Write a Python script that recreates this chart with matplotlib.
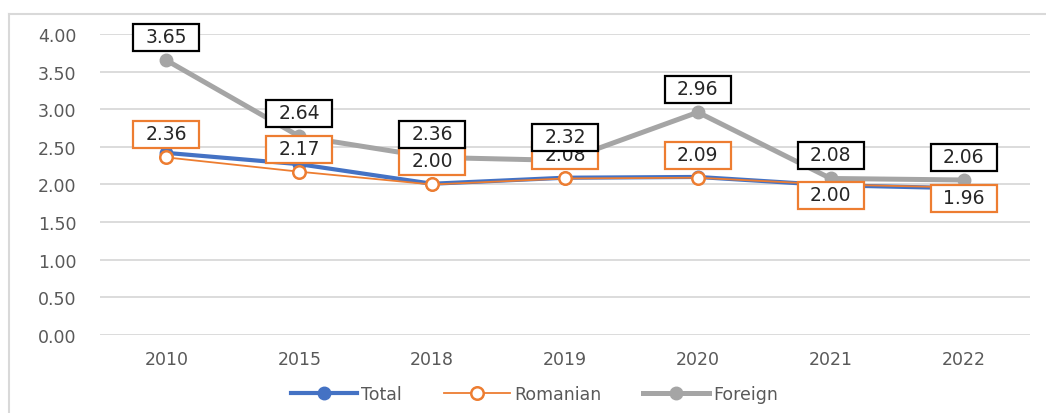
import matplotlib.pyplot as plt
from matplotlib.lines import Line2D
from matplotlib.path import Path

years = ['2010', '2015', '2018', '2019', '2020', '2021', '2022']
total = [2.42, 2.27, 2.01, 2.09, 2.10, 1.99, 1.95]
romanian = [2.36, 2.17, 2.00, 2.08, 2.09, 2.00, 1.96]
foreign = [3.65, 2.64, 2.36, 2.32, 2.96, 2.08, 2.06]
# label offsets in points (positive = above the point)
romanian_off = [17, 17, 17, 17, 17, -7, -7]
foreign_off = [17, 17, 17, 17, 17, 17, 17]


def label_box(x0, y0, width, height, mutation_size):
    # fixed size box (pixels) centred on the text
    cx = x0 + width / 2
    cy = y0 + height / 2 - 1
    w, h = 33, 13.5
    return Path([(cx - w, cy - h), (cx + w, cy - h), (cx + w, cy + h),
                 (cx - w, cy + h), (cx - w, cy - h)], closed=True)


fig = plt.figure(figsize=(10.46, 4.14), dpi=100)
ax = fig.add_axes([0.0956, 0.1884, 0.8891, 0.7271])

x = list(range(len(years)))
ax.plot(x, total, color='#4472C4', lw=3.0, marker='o', ms=9, zorder=3)
ax.plot(x, romanian, color='#ED7D31', lw=1.3, marker='o', ms=9,
        markerfacecolor='white', markeredgewidth=1.8, zorder=4)
ax.plot(x, foreign, color='#A5A5A5', lw=3.6, marker='o', ms=9, zorder=5)

for i in x:
    ax.annotate(f'{romanian[i]:.2f}', (i, romanian[i]), xytext=(0, romanian_off[i]),
                textcoords='offset points', ha='center', va='center',
                fontsize=13.5, color='#262626', zorder=6,
                bbox=dict(boxstyle=label_box, fc='white', ec='#ED7D31', lw=1.6))
    ax.annotate(f'{foreign[i]:.2f}', (i, foreign[i]), xytext=(0, foreign_off[i]),
                textcoords='offset points', ha='center', va='center',
                fontsize=13.5, color='#262626', zorder=7,
                bbox=dict(boxstyle=label_box, fc='white', ec='black', lw=1.6))

ax.set_xlim(-0.5, 6.5)
ax.set_ylim(0, 4)
ax.set_yticks([0, 0.5, 1, 1.5, 2, 2.5, 3, 3.5, 4])
ax.set_yticklabels([f'{v:.2f}' for v in ax.get_yticks()])
ax.set_xticks(x)
ax.set_xticklabels(years)
ax.tick_params(length=0, labelsize=12.5, colors='#595959', pad=11)
ax.tick_params(axis='y', pad=17)
ax.grid(axis='y', color='#D9D9D9', lw=1.3)
ax.set_axisbelow(True)
for s in ax.spines.values():
    s.set_visible(False)

handles = [
    Line2D([], [], color='#4472C4', lw=3.0, marker='o', ms=9),
    Line2D([], [], color='#ED7D31', lw=1.3, marker='o', ms=9,
           markerfacecolor='white', markeredgewidth=1.8),
    Line2D([], [], color='#A5A5A5', lw=3.6, marker='o', ms=9),
]
fig.legend(handles, ['Total', 'Romanian', 'Foreign'], loc='center',
           bbox_to_anchor=(0.511, 0.046), ncol=3, frameon=False,
           fontsize=12.5, labelcolor='#595959', handlelength=3.8,
           handletextpad=0.25, columnspacing=2.4)

# chart frame
fig.add_artist(Line2D([9 / 1046, 9 / 1046], [0, 1 - 15 / 414], color='#D9D9D9', lw=1.5))
fig.add_artist(Line2D([9 / 1046, 1], [1 - 15 / 414, 1 - 15 / 414], color='#D9D9D9', lw=1.5))

fig.savefig('out.png', dpi=100)
